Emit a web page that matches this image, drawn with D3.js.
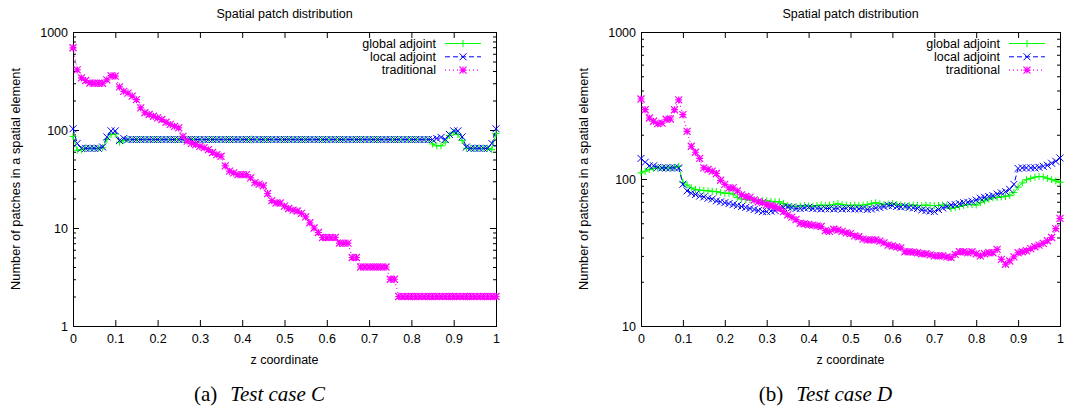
<!DOCTYPE html>
<html>
<head>
<meta charset="utf-8">
<script src="https://cdn.jsdelivr.net/npm/d3@7"></script>
<style>
	body { margin: 0; background: #fff; }
	svg text { font-family: "Liberation Sans", Arial, sans-serif; font-size: 12.5px; fill: #000; }
	svg text.ylab { font-size: 12.8px; }
	svg text.caption { font-family: "Liberation Serif", "Times New Roman", serif; font-size: 21px; }
</style>
</head>
<body>
<svg id="fig" width="1084" height="410"></svg>
<script>
// z positions of the sample points
var zCoord = [
	0, 0.01, 0.02, 0.03, 0.04, 0.05, 0.06, 0.07, 0.08, 0.09,
	0.1, 0.11, 0.12, 0.13, 0.14, 0.15, 0.16, 0.17, 0.18, 0.19,
	0.2, 0.21, 0.22, 0.23, 0.24, 0.25, 0.26, 0.27, 0.28, 0.29,
	0.3, 0.31, 0.32, 0.33, 0.34, 0.35, 0.36, 0.37, 0.38, 0.39,
	0.4, 0.41, 0.42, 0.43, 0.44, 0.45, 0.46, 0.47, 0.48, 0.49,
	0.5, 0.51, 0.52, 0.53, 0.54, 0.55, 0.56, 0.57, 0.58, 0.59,
	0.6, 0.61, 0.62, 0.63, 0.64, 0.65, 0.66, 0.67, 0.68, 0.69,
	0.7, 0.71, 0.72, 0.73, 0.74, 0.75, 0.76, 0.77, 0.78, 0.79,
	0.8, 0.81, 0.82, 0.83, 0.84, 0.85, 0.86, 0.87, 0.88, 0.89,
	0.9, 0.91, 0.92, 0.93, 0.94, 0.95, 0.96, 0.97, 0.98, 0.99,
	1
];

// test case C
var globalC = [
	86, 62, 63, 65, 65, 65, 65, 66, 80, 90,
	91, 75, 78, 80, 80, 80, 80, 80, 80, 80,
	80, 80, 80, 80, 80, 80, 80, 80, 80, 80,
	80, 80, 80, 80, 80, 80, 80, 80, 80, 80,
	80, 80, 80, 80, 80, 80, 80, 80, 80, 80,
	80, 80, 80, 80, 80, 80, 80, 80, 80, 80,
	80, 80, 80, 80, 80, 80, 80, 80, 80, 80,
	80, 80, 80, 80, 80, 80, 80, 80, 80, 80,
	80, 80, 80, 80, 80, 72, 69, 69, 75, 88,
	95, 90, 78, 65, 65, 65, 65, 65, 65, 63,
	92
];
var localC = [
	103, 73, 65, 65, 65, 65, 65, 67, 85, 98,
	98, 78, 82, 80, 80, 80, 80, 80, 80, 80,
	80, 80, 80, 80, 80, 80, 80, 80, 80, 80,
	80, 80, 80, 80, 80, 80, 80, 80, 80, 80,
	80, 80, 80, 80, 80, 80, 80, 80, 80, 80,
	80, 80, 80, 80, 80, 80, 80, 80, 80, 80,
	80, 80, 80, 80, 80, 80, 80, 80, 80, 80,
	80, 80, 80, 80, 80, 80, 80, 80, 80, 80,
	80, 80, 80, 80, 80, 80, 82, 84, 80, 90,
	98, 98, 85, 67, 65, 65, 65, 65, 65, 73,
	103
];
var tradC = [
	690, 410, 340, 320, 302, 300, 300, 300, 325, 358,
	355, 275, 248, 238, 222, 204, 168, 150, 144, 138,
	133, 128, 120, 114, 109, 105, 86, 77, 73, 71,
	68, 66, 63, 59, 56, 54, 43, 38, 36.5, 35,
	35, 35, 32.5, 29, 28, 27, 22.5, 19, 18, 18,
	16.7, 15.8, 15.2, 14.9, 14.1, 13, 11.3, 10, 9, 8,
	8, 8, 8, 7, 7, 7, 5, 5, 4, 4,
	4, 4, 4, 4, 4, 3, 3, 2, 2, 2,
	2, 2, 2, 2, 2, 2, 2, 2, 2, 2,
	2, 2, 2, 2, 2, 2, 2, 2, 2, 2,
	2
];

// test case D
var globalD = [
	110, 113, 116, 118, 119, 119, 119, 119, 120, 122,
	95, 91, 87, 85, 84, 83.5, 83, 82.5, 82, 81,
	80, 80, 79, 75, 73, 72.5, 72, 72, 71.5, 71,
	71, 70.5, 70, 70, 68, 66, 65, 65, 65.5, 66,
	65.5, 65, 66, 66.5, 66, 66.5, 67, 68, 67, 66.5,
	66, 66.5, 66, 66.5, 67, 68, 69, 68, 67, 67.5,
	68, 67, 66.5, 66, 66, 66.5, 66, 66, 66.5, 66,
	66, 66, 66.5, 66, 63, 64, 65, 66, 67, 67,
	66.5, 69, 71, 73, 74.5, 75, 75.5, 76, 77, 81,
	88, 94, 99, 101, 103, 104, 103.5, 101, 99, 97,
	95
];
var localD = [
	138, 130, 123, 123, 120, 119, 119, 119, 119, 119,
	92, 83, 80, 78.5, 76.5, 75.5, 74, 73, 71, 70,
	69, 68, 67, 66, 65, 64, 63, 62, 61, 60,
	60, 60.5, 61, 63, 64, 64.5, 64, 63, 63, 63.5,
	64, 63, 63, 62.5, 63, 63, 62.5, 63, 62.5, 63,
	63, 62.5, 62.5, 63, 62, 62.5, 63.5, 64, 65, 66,
	66, 65, 64.5, 65, 64, 63.5, 63, 61.5, 61, 60.5,
	60, 62, 63.5, 65, 66.5, 67, 68, 69, 69.5, 70.5,
	72, 74, 75, 76, 77, 79, 80.5, 82, 85, 92,
	118, 119, 119, 119, 119, 120, 122, 124, 128, 132,
	139
];
var tradD = [
	350, 296, 260, 247, 238, 240, 255, 256, 296, 345,
	274, 211, 167, 152, 138, 119, 116, 113, 109, 98,
	92, 87, 87, 83, 78, 76, 75, 72, 70, 69,
	67, 66, 65, 63, 60, 57, 55, 53, 50, 49.5,
	49, 48.5, 48, 47.5, 44.5, 44, 45.5, 45, 44, 43,
	42.5, 41, 40.5, 39, 38.5, 38.5, 38.5, 37.8, 36.8, 35.5,
	35, 34.5, 34, 32, 32, 31.8, 31.5, 31, 31, 30.5,
	30, 30, 30, 29.5, 29.2, 30.7, 32, 32, 31.5, 32,
	31, 30, 31, 31.5, 31.5, 33.2, 28.4, 26.3, 27.7, 29.5,
	31.5, 32, 32.5, 33.6, 34.6, 35.5, 36.5, 38, 40, 46,
	54
];

var seriesNames = ["global adjoint", "local adjoint", "traditional"];
var xTicks = [0, 0.1, 0.2, 0.3, 0.4, 0.5, 0.6, 0.7, 0.8, 0.9, 1];
var xTickLabels = ["0", "0.1", "0.2", "0.3", "0.4", "0.5", "0.6", "0.7", "0.8", "0.9", "1"];
var yTicksC = [1, 10, 100, 1000];
var yTicksD = [10, 100, 1000];

function plusPath(px, py, s) {
	return "M" + (px - s) + "," + py + "h" + 2 * s
		+ "M" + px + "," + (py - s) + "v" + 2 * s;
}

function crossPath(px, py, s) {
	return "M" + (px - s) + "," + (py - s) + "l" + 2 * s + "," + 2 * s
		+ "M" + (px - s) + "," + (py + s) + "l" + 2 * s + "," + (-2 * s);
}

function starPath(px, py, s) {
	return plusPath(px, py, s) + crossPath(px, py, s);
}

function patchPlot() {
	var left = 73, top = 32,
		width = 423,
		height = 294;

	var styles = [
		{color: "#00ff00", dash: null, marker: plusPath, width: 1},
		{color: "#0000ff", dash: "5,3", marker: crossPath, width: 1},
		{color: "#ff00ff", dash: "1,3", marker: starPath, width: 1.2}
	];

	function chart(selection) {
		selection.each(function(data) {
			var g = d3.select(this)
				.attr("transform", "translate(" + left + "," + top + ")");

			var x = d3.scaleLinear().domain([0, 1]).range([0, width]);
			var y = d3.scaleLog().domain([data.yTicks[0], data.yTicks[data.yTicks.length - 1]]).range([height, 0]);

			var minor = y.ticks().filter(function(d) { return data.yTicks.indexOf(d) < 0; });

			// axes, all ticks pointing inwards
			g.append("g")
				.attr("transform", "translate(0," + height + ")")
				.call(d3.axisBottom(x).tickValues(xTicks)
					.tickFormat(function(d, i) { return xTickLabels[i]; })
					.tickSizeInner(-6).tickSizeOuter(0).tickPadding(8));

			g.append("g")
				.call(d3.axisTop(x).tickValues(xTicks).tickFormat("")
					.tickSizeInner(-6).tickSizeOuter(0));

			g.append("g")
				.call(d3.axisLeft(y).tickValues(data.yTicks).tickFormat(d3.format("d"))
					.tickSizeInner(-6).tickSizeOuter(0).tickPadding(5));

			g.append("g")
				.call(d3.axisLeft(y).tickValues(minor).tickFormat("")
					.tickSizeInner(-3).tickSizeOuter(0));

			g.append("g")
				.attr("transform", "translate(" + width + ",0)")
				.call(d3.axisRight(y).tickValues(data.yTicks).tickFormat("")
					.tickSizeInner(-6).tickSizeOuter(0));

			g.append("g")
				.attr("transform", "translate(" + width + ",0)")
				.call(d3.axisRight(y).tickValues(minor).tickFormat("")
					.tickSizeInner(-3).tickSizeOuter(0));

			g.selectAll(".domain").remove();
			g.selectAll(".tick line").attr("stroke", "#000");

			g.append("rect")
				.attr("x", 0.5)
				.attr("y", 0.5)
				.attr("width", width)
				.attr("height", height)
				.attr("fill", "none")
				.attr("stroke", "#000");

			// curves
			var line = d3.line()
				.x(function(d, i) { return x(zCoord[i]); })
				.y(function(d) { return y(d); });

			data.series.forEach(function(values, k) {
				var st = styles[k];

				g.append("path")
					.datum(values)
					.attr("d", line)
					.attr("fill", "none")
					.attr("stroke", st.color)
					.attr("stroke-width", st.width)
					.attr("stroke-dasharray", st.dash);

				g.selectAll("path.pt" + k)
					.data(values)
					.enter()
					.append("path")
					.attr("class", "pt" + k)
					.attr("d", function(d, i) { return st.marker(x(zCoord[i]), y(d), 3.5); })
					.attr("fill", "none")
					.attr("stroke", st.color)
					.attr("stroke-width", st.width);
			});

			// legend
			var legend = g.selectAll("g.key")
				.data(seriesNames)
				.enter()
				.append("g")
				.attr("class", "key")
				.attr("transform", function(d, i) { return "translate(0," + (11.5 + i * 13.3) + ")"; });

			legend.append("text")
				.attr("x", width - 60)
				.attr("y", 4.3)
				.attr("text-anchor", "end")
				.text(function(d) { return d; });

			legend.append("line")
				.attr("x1", width - 51)
				.attr("x2", width - 15)
				.attr("stroke", function(d, i) { return styles[i].color; })
				.attr("stroke-width", function(d, i) { return styles[i].width; })
				.attr("stroke-dasharray", function(d, i) { return styles[i].dash; });

			legend.append("path")
				.attr("d", function(d, i) { return styles[i].marker(width - 33, 0, 3.5); })
				.attr("fill", "none")
				.attr("stroke", function(d, i) { return styles[i].color; })
				.attr("stroke-width", function(d, i) { return styles[i].width; });

			// texts
			g.append("text")
				.attr("x", width / 2)
				.attr("y", -14.5)
				.attr("text-anchor", "middle")
				.text("Spatial patch distribution");

			g.append("text")
				.attr("x", width / 2)
				.attr("y", height + 38)
				.attr("text-anchor", "middle")
				.text("z coordinate");

			g.append("text")
				.attr("class", "ylab")
				.attr("transform", "translate(-53," + (height / 2) + ") rotate(-90)")
				.attr("text-anchor", "middle")
				.text("Number of patches in a spatial element");

			var cap = g.append("text")
				.attr("class", "caption")
				.attr("x", width / 2 - 25)
				.attr("y", height + 75)
				.attr("text-anchor", "middle");

			cap.append("tspan").text(data.label);
			cap.append("tspan")
				.attr("dx", 13)
				.attr("font-style", "italic")
				.text(data.caption);
		});
	}

	chart.left = function(_) {
		if (!arguments.length) return left;
		left = _;
		return chart;
	}

	chart.width = function(_) {
		if (!arguments.length) return width;
		width = _;
		return chart;
	}

	chart.height = function(_) {
		if (!arguments.length) return height;
		height = _;
		return chart;
	}

	return chart;
}

var svg = d3.select("#fig");

svg.append("g")
	.datum({series: [globalC, localC, tradC], yTicks: yTicksC, label: "(a)", caption: "Test case C"})
	.call(patchPlot().left(73).width(423));

svg.append("g")
	.datum({series: [globalD, localD, tradD], yTicks: yTicksD, label: "(b)", caption: "Test case D"})
	.call(patchPlot().left(641).width(419));
</script>
</body>
</html>
